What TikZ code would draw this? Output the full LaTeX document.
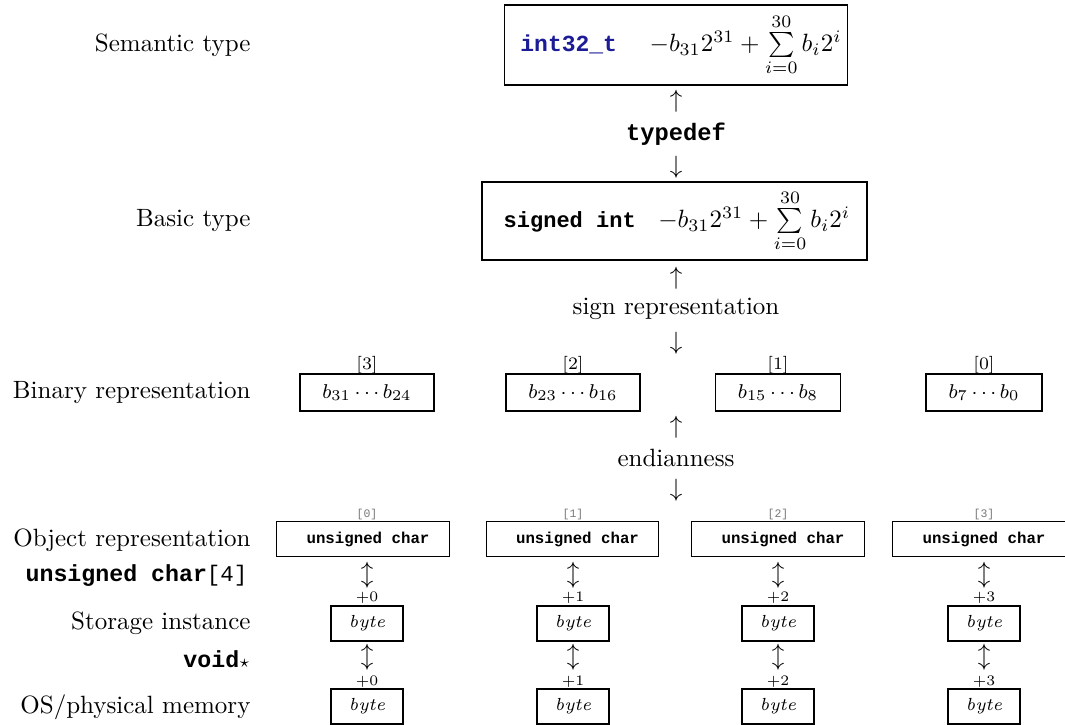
\documentclass[tikz,border=0pt]{standalone}
\usepackage{fontspec}
\setmonofont{Liberation Mono}
\definecolor{kwblue}{RGB}{28,28,150}
\definecolor{idxgray}{RGB}{120,120,120}
\begin{document}
\begin{tikzpicture}[x=0.4pt,y=-0.4pt,
  lbl/.style={anchor=east,inner sep=0pt,font=\fontsize{10}{12}\selectfont},
  txt/.style={inner sep=0pt,font=\fontsize{10}{12}\selectfont},
  arr/.style={inner sep=0pt,font=\fontsize{10}{12}\selectfont},
  bigbox/.style={draw,line width=0.7pt,inner sep=0pt,font=\fontsize{10}{12}\selectfont},
  binbox/.style={draw,line width=0.5pt,inner xsep=9pt,inner ysep=0pt,minimum height=14.8pt,font=\fontsize{8}{9}\selectfont},
  objbox/.style={draw,line width=0.5pt,inner sep=0pt,minimum width=69pt,minimum height=14pt,font=\fontsize{6.3}{7}\selectfont\ttfamily\bfseries},
  bytebox/.style={draw,line width=0.5pt,inner sep=0pt,minimum width=28.8pt,minimum height=14pt,font=\fontsize{7}{8}\selectfont\itshape},
  binidx/.style={inner sep=0pt,font=\fontsize{7}{8}\selectfont},
  objidx/.style={inner sep=0pt,text=idxgray,font=\fontsize{4.6}{5}\selectfont\ttfamily},
  off/.style={inner sep=0pt,font=\fontsize{5.8}{6}\selectfont},
  uda/.style={inner sep=0pt,font=\fontsize{10}{12}\selectfont}]
\useasboundingbox (0,0) rectangle (1065,725);

% left labels
\node[lbl] (lsem) at (251,45) {Semantic type};
\node[lbl] (lbas) at (251,221) {Basic type};
\node[lbl] (lbin) at (251,393) {Binary representation};
\node[lbl] (lobj) at (251,540) {Object representation};
\node[lbl] (luc) at (248,576) {{\fontsize{9.3}{11}\selectfont\ttfamily\bfseries unsigned char}{\fontsize{9}{11}\selectfont\ttfamily[4]}};
\node[lbl] (lsto) at (251,623) {Storage instance};
\node[lbl] (lvoid) at (250,659) {{\fontsize{9.3}{11}\selectfont\ttfamily\bfseries void}{\fontsize{7}{8}\selectfont$\star$}};
\node[lbl] (los) at (251,707) {OS/physical memory};

% semantic type
\node[bigbox,minimum width=137.2pt,minimum height=32pt] (sem) at (676,45)
  {\hspace*{4pt}{\fontsize{9.2}{11}\selectfont\ttfamily\bfseries\color{kwblue}int32\_t}\hspace{13pt}$-b_{31}2^{31}+\textstyle\sum\limits_{i=0}^{30}b_i2^i$};
\node[arr] (a1) at (676,101) {$\uparrow$};
\node[txt] (tdef) at (676,134) {\fontsize{9.5}{11}\selectfont\ttfamily\bfseries typedef};
\node[arr] (a2) at (676,167) {$\downarrow$};

% basic type
\node[bigbox,minimum width=154pt,minimum height=31.2pt] (bas) at (674.5,221)
  {\hspace*{2pt}{\fontsize{8.8}{11}\selectfont\ttfamily\bfseries signed int}\hspace{9pt}$-b_{31}2^{31}+\textstyle\sum\limits_{i=0}^{30}b_i2^i$};
\node[arr] (a3) at (676,278) {$\uparrow$};
\node[txt] (sgn) at (676,309) {sign representation};
\node[arr] (a4) at (676,343) {$\downarrow$};

% binary representation
\node[binbox] (bin3) at (367,392.5) {$b_{31}\cdots b_{24}$};
\node[binbox] (bin2) at (573,392.5) {$b_{23}\cdots b_{16}$};
\node[binbox] (bin1) at (778,392.5) {$b_{15}\cdots b_{8}$};
\node[binbox] (bin0) at (984,392.5) {$b_{7}\cdots b_{0}$};
\node[binidx] (bi3) at (367,365) {[3]};
\node[binidx] (bi2) at (573,365) {[2]};
\node[binidx] (bi1) at (778,365) {[1]};
\node[binidx] (bi0) at (984,365) {[0]};

\node[arr] (a5) at (676,427) {$\uparrow$};
\node[txt] (endi) at (676,458) {endianness};
\node[arr] (a6) at (676,490) {$\downarrow$};

% object representation and below
\foreach \i/\x/\ox in {0/367/363,1/573/572.5,2/778/778,3/984/979}{
  \node[objbox] (obj\i) at (\ox,539) {\hspace*{4pt}unsigned char};
  \node[objidx] (oi\i) at (\x,515) {[\i]};
  \node[uda] (ua\i) at (\x,575) {$\updownarrow$};
  \node[off] (oa\i) at (\x,598) {+\i};
  \node[bytebox] (st\i) at (\x,623.5) {byte};
  \node[uda] (ub\i) at (\x,657) {$\updownarrow$};
  \node[off] (ob\i) at (\x,682) {+\i};
  \node[bytebox] (os\i) at (\x,706.5) {byte};
}
\end{tikzpicture}
\end{document}
